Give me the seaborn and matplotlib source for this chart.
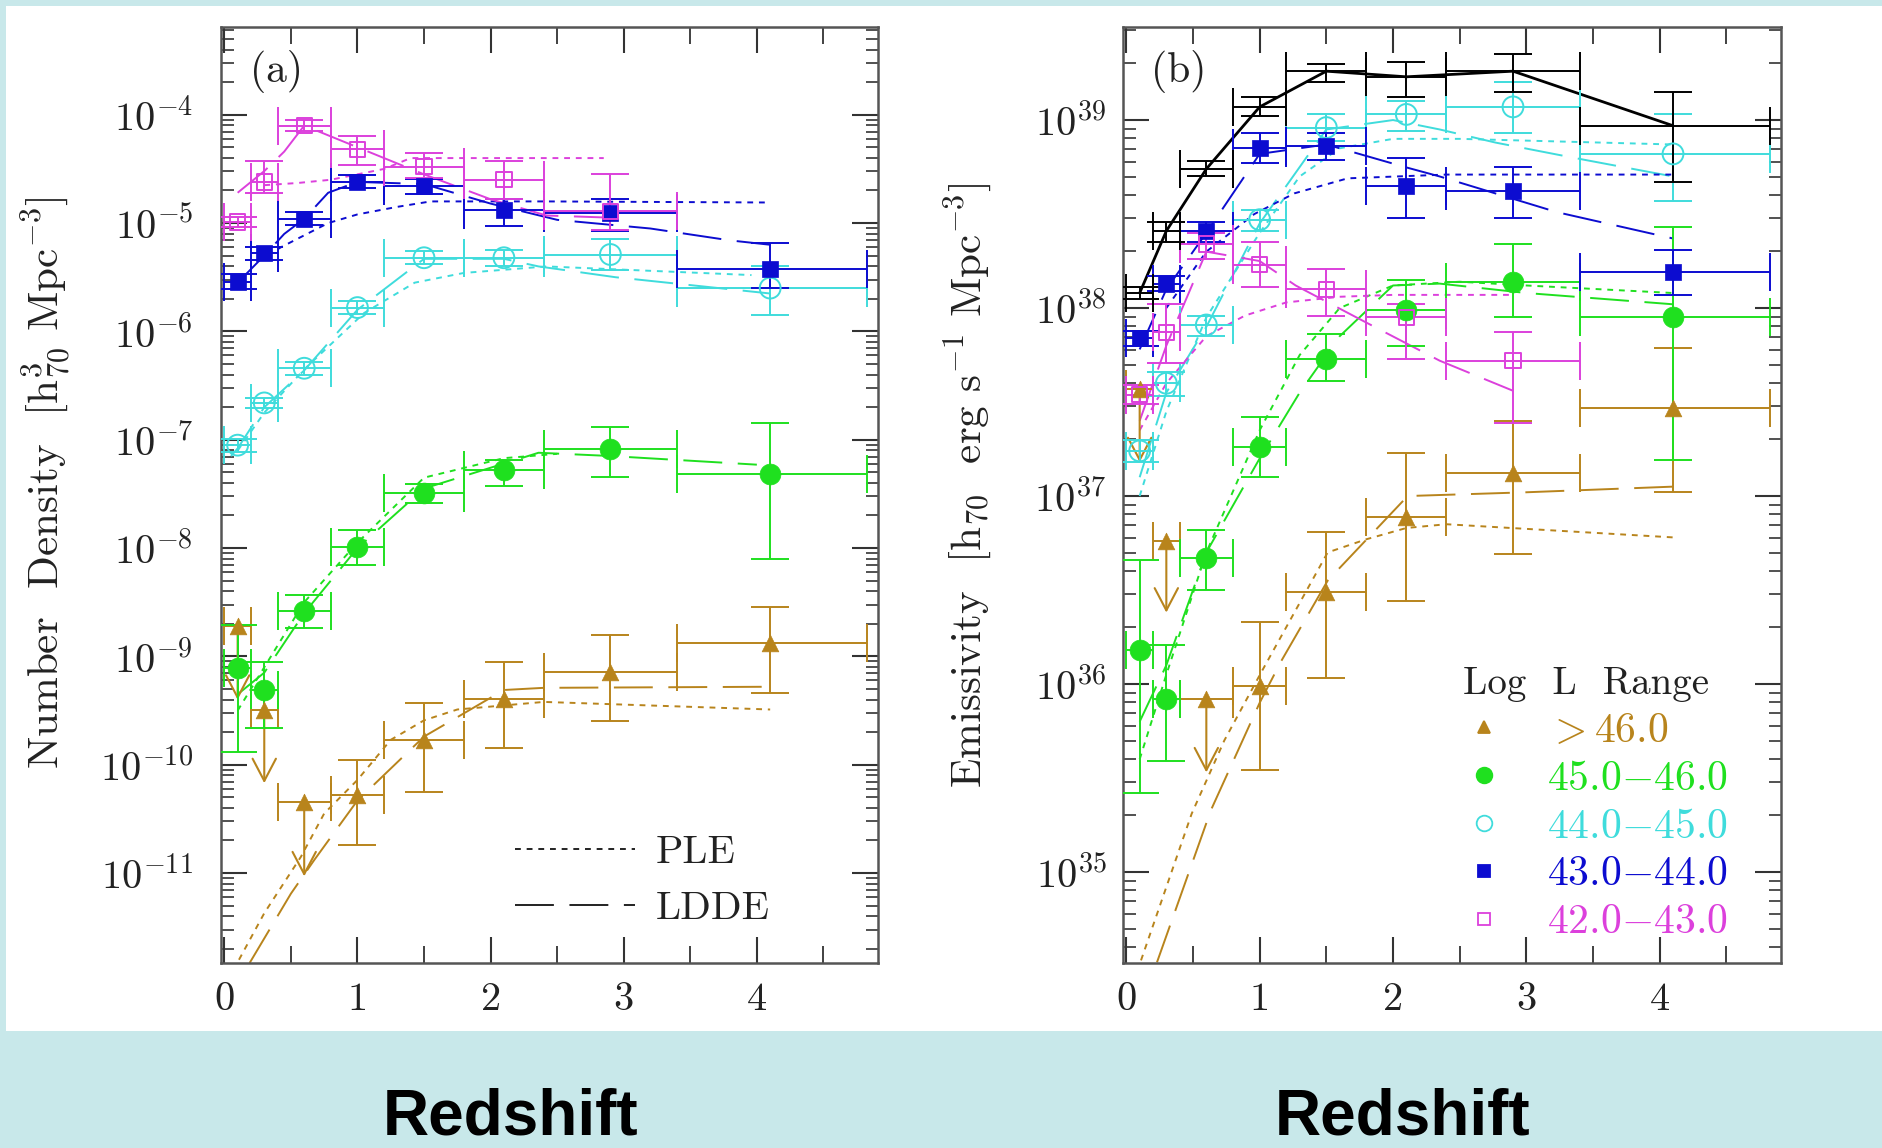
import numpy as np
import pandas as pd
import matplotlib
matplotlib.use("Agg")
import matplotlib.pyplot as plt
import seaborn as sns
from matplotlib.lines import Line2D
from matplotlib.patches import Rectangle
from matplotlib.ticker import LogLocator, MultipleLocator, FuncFormatter, NullFormatter, FixedLocator

# ---------------- data (log10 values) ----------------
Z = [0.1, 0.3, 0.6, 1.0, 1.5, 2.1, 2.9, 4.1]
Z_LO = [0.0, 0.2, 0.4, 0.8, 1.2, 1.8, 2.4, 3.4]
Z_HI = [0.2, 0.4, 0.8, 1.2, 1.8, 2.4, 3.4, 4.83]
X_TICKS = [0, 1, 2, 3, 4]
UPPER = [True, True, True, False, False, False, False, False]   # >46.0 upper limits

LABELS = [">46.0", "45.0-46.0", "44.0-45.0", "43.0-44.0", "42.0-43.0"]

# panel (a): number density
A_GT46 = [-8.72, -9.49, -10.34, -10.28, -9.77, -9.39, -9.14, -8.88]
A_GT46_LO = [-9.40, -10.17, -11.03, -10.74, -10.25, -9.85, -9.60, -9.34]
A_GT46_HI = [-8.72, -9.49, -10.34, -9.96, -9.43, -9.05, -8.80, -8.54]
A_4546 = [-9.11, -9.31, -8.58, -7.99, -7.49, -7.28, -7.09, -7.32]
A_4546_LO = [-9.88, -9.66, -8.74, -8.16, -7.58, -7.43, -7.34, -8.10]
A_4546_HI = [-8.71, -9.05, -8.43, -7.83, -7.41, -7.19, -6.88, -6.85]
A_4445 = [-7.05, -6.66, -6.34, -5.78, -5.32, -5.32, -5.29, -5.60]
A_4445_LO = [-7.11, -6.71, -6.40, -5.84, -5.38, -5.40, -5.43, -5.85]
A_4445_HI = [-6.99, -6.61, -6.28, -5.72, -5.26, -5.25, -5.15, -5.40]
A_4344 = [-5.54, -5.28, -4.96, -4.62, -4.66, -4.88, -4.91, -5.42]
A_4344_LO = [-5.61, -5.34, -5.02, -4.68, -4.73, -5.03, -5.07, -5.60]
A_4344_HI = [-5.47, -5.22, -4.90, -4.56, -4.59, -4.78, -4.78, -5.18]
A_4243 = [-4.99, -4.62, -4.10, -4.32, -4.48, -4.60, -4.89]
A_4243_LO = [-5.04, -4.72, -4.15, -4.46, -4.58, -4.78, -5.06]
A_4243_HI = [-4.94, -4.43, -4.05, -4.20, -4.35, -4.43, -4.55]

# panel (a) model curves
A_PLE_GT46_Z = [0.11, 0.3, 0.575, 0.75, 1.0, 1.25, 1.5, 1.75, 2.4, 4.1]
A_PLE_GT46 = [-11.8, -11.37, -10.85, -10.45, -10.14, -9.77, -9.59, -9.49, -9.42, -9.49]
A_LDDE_GT46_Z = [0.19, 0.5, 0.675, 1.0, 1.5, 2.1, 2.4, 4.1]
A_LDDE_GT46 = [-11.83, -11.19, -10.88, -10.33, -9.74, -9.31, -9.29, -9.28]
A_PLE_4546_Z = [0.1, 0.3, 0.6, 1.0, 1.5, 2.1, 2.5]
A_PLE_4546 = [-9.5, -9.1, -8.5, -7.95, -7.35, -7.17, -7.13]
A_LDDE_4546_Z = [0.1, 0.3, 0.6, 1.0, 1.5, 2.1, 2.36, 2.9, 4.0]
A_LDDE_4546 = [-9.35, -9.15, -8.6, -8.0, -7.45, -7.22, -7.12, -7.15, -7.23]
A_PLE_4445_Z = [0.1, 0.3, 0.6, 1.05, 1.43, 1.8, 2.42, 3.96]
A_PLE_4445 = [-7.1, -6.75, -6.35, -5.83, -5.55, -5.46, -5.4, -5.48]
A_LDDE_4445_Z = [0.05, 0.1, 0.3, 0.6, 1.0, 1.5, 2.1, 2.36, 2.94, 4.1]
A_LDDE_4445 = [-7.15, -7.08, -6.7, -6.36, -5.8, -5.33, -5.33, -5.4, -5.5, -5.65]
A_PLE_4344_Z = [0.25, 0.43, 0.78, 1.0, 1.3, 1.55, 2.42, 4.1]
A_PLE_4344 = [-5.35, -5.22, -5.0, -4.92, -4.85, -4.8, -4.8, -4.81]
A_LDDE_4344_Z = [0.1, 0.3, 0.45, 0.6, 0.78, 1.0, 1.5, 2.0, 2.5, 3.2, 3.8, 4.1]
A_LDDE_4344 = [-5.55, -5.3, -5.1, -4.96, -4.72, -4.62, -4.64, -4.82, -4.97, -5.05, -5.16, -5.2]
A_PLE_4243_Z = [0.3, 0.55, 0.8, 1.2, 1.4, 2.0, 2.85]
A_PLE_4243 = [-4.65, -4.63, -4.6, -4.5, -4.4, -4.4, -4.4]
A_LDDE_4243_Z = [0.1, 0.3, 0.45, 0.6, 1.0, 1.5, 2.0, 2.42, 2.9]
A_LDDE_4243 = [-4.72, -4.52, -4.34, -4.1, -4.3, -4.55, -4.78, -4.93, -4.95]

# panel (b): emissivity
B_TOT = [38.08, 38.41, 38.74, 39.07, 39.26, 39.23, 39.26, 38.97]
B_TOT_LO = [38.05, 38.35, 38.70, 39.02, 39.20, 39.12, 39.15, 38.67]
B_TOT_HI = [38.11, 38.46, 38.78, 39.12, 39.30, 39.31, 39.35, 39.15]
B_GT46 = [37.57, 36.76, 35.92, 35.99, 36.49, 36.89, 37.12, 37.47]
B_GT46_LO = [37.18, 36.38, 35.53, 35.54, 36.03, 36.44, 36.69, 37.02]
B_GT46_HI = [37.57, 36.76, 35.92, 36.33, 36.81, 37.23, 37.40, 37.79]
B_4546 = [36.18, 35.92, 36.67, 37.26, 37.73, 37.99, 38.14, 37.95]
B_4546_LO = [35.42, 35.59, 36.50, 37.10, 37.61, 37.80, 37.95, 37.19]
B_4546_HI = [36.66, 36.21, 36.82, 37.42, 37.86, 38.15, 38.34, 38.43]
B_4445 = [37.24, 37.60, 37.91, 38.47, 38.96, 39.03, 39.07, 38.82]
B_4445_LO = [37.18, 37.53, 37.85, 38.41, 38.89, 38.94, 38.93, 38.57]
B_4445_HI = [37.30, 37.66, 37.96, 38.52, 39.03, 39.10, 39.20, 39.03]
B_4344 = [37.84, 38.13, 38.41, 38.85, 38.86, 38.65, 38.62, 38.19]
B_4344_LO = [37.80, 38.09, 38.35, 38.77, 38.79, 38.48, 38.48, 38.07]
B_4344_HI = [37.88, 38.17, 38.46, 38.93, 38.93, 38.80, 38.75, 38.31]
B_4243 = [37.54, 37.87, 38.34, 38.23, 38.10, 37.95, 37.72]
B_4243_LO = [37.49, 37.71, 38.26, 38.11, 37.96, 37.73, 37.39]
B_4243_HI = [37.59, 38.02, 38.40, 38.35, 38.21, 38.02, 37.87]

# panel (b) model curves
B_PLE_GT46_Z = [0.11, 0.49, 0.735, 1.01, 1.51, 1.8, 2.1, 2.4, 4.1]
B_PLE_GT46 = [34.53, 35.31, 35.7, 36.06, 36.7, 36.77, 36.83, 36.85, 36.78]
B_LDDE_GT46_Z = [0.23, 0.635, 1.0, 1.16, 1.51, 2.11, 3.0, 4.1]
B_LDDE_GT46 = [34.52, 35.33, 35.9, 36.12, 36.55, 37.0, 37.02, 37.05]
B_PLE_4546_Z = [0.1, 0.3, 0.6, 1.0, 1.3, 1.6, 2.0, 2.5, 3.0, 4.1]
B_PLE_4546 = [35.6, 36.05, 36.7, 37.35, 37.75, 38.0, 38.12, 38.14, 38.12, 38.08]
B_LDDE_4546_Z = [0.1, 0.3, 0.6, 1.0, 1.3, 1.6, 2.0, 2.35, 3.0, 4.1]
B_LDDE_4546 = [35.8, 36.1, 36.7, 37.2, 37.55, 37.85, 38.12, 38.13, 38.08, 38.02]
B_PLE_4445_Z = [0.1, 0.3, 0.6, 1.0, 1.3, 1.6, 2.0, 2.5, 4.1]
B_PLE_4445 = [37.0, 37.45, 37.95, 38.4, 38.7, 38.85, 38.9, 38.9, 38.87]
B_LDDE_4445_Z = [0.1, 0.3, 0.6, 1.0, 1.5, 2.0, 2.35, 2.77, 3.35, 4.1]
B_LDDE_4445 = [37.1, 37.55, 37.9, 38.45, 38.95, 39.0, 38.95, 38.88, 38.8, 38.7]
B_PLE_4344_Z = [0.3, 0.6, 0.96, 1.26, 1.66, 2.4, 4.1]
B_PLE_4344 = [38.0, 38.3, 38.5, 38.61, 38.69, 38.71, 38.71]
B_LDDE_4344_Z = [0.1, 0.3, 0.6, 1.0, 1.5, 2.09, 2.35, 3.23, 4.1]
B_LDDE_4344 = [37.78, 38.1, 38.4, 38.82, 38.87, 38.75, 38.7, 38.51, 38.37]
B_PLE_4243_Z = [0.1, 0.3, 0.6, 0.89, 1.2, 1.6, 2.0, 2.9]
B_PLE_4243 = [37.35, 37.6, 37.85, 37.96, 38.03, 38.06, 38.07, 38.07]
B_LDDE_4243_Z = [0.1, 0.3, 0.6, 1.0, 1.27, 1.78, 2.35, 2.9]
B_LDDE_4243 = [37.4, 37.8, 38.3, 38.25, 38.12, 37.93, 37.72, 37.56]

# ---------------- style ----------------
BROWN, GREEN, CYAN, BLUE, MAGENTA = "#b8841c", "#1fe01f", "#3fdcdc", "#0c0cd0", "#dc40dc"
COLORS = [BROWN, GREEN, CYAN, BLUE, MAGENTA]
MARKERS = [("^", True, 12), ("o", True, 15), ("o", False, 15), ("s", True, 12), ("s", False, 11)]
BG = "#c8e8ea"
PLE_DASH = (0, (3, 3))
LDDE_DASH = (0, (20, 8))

sns.set_theme(style="ticks")
plt.rcParams["font.family"] = ["cmr10", "DejaVu Serif"]
plt.rcParams["mathtext.fontset"] = "cm"
plt.rcParams["axes.formatter.use_mathtext"] = True
plt.rcParams["axes.unicode_minus"] = False

fig = plt.figure(figsize=(18.83, 11.48), dpi=100, facecolor=BG)
fig.patches.append(Rectangle((6 / 1883, 1 - 1031 / 1148), 1, (1031 - 6) / 1148,
                             transform=fig.transFigure, facecolor="white", edgecolor="none",
                             zorder=-5))
axA = fig.add_axes([221 / 1883, 1 - 963 / 1148, 657 / 1883, 936 / 1148])
axB = fig.add_axes([1123 / 1883, 1 - 963 / 1148, 658 / 1883, 936 / 1148])


def p10(a):
    return np.power(10.0, np.asarray(a, dtype=float))


def draw_points(ax, vals, lo, hi, color, mspec, upper=None):
    n = len(vals)
    z = np.array(Z[:n]); zl = np.array(Z_LO[:n]); zh = np.array(Z_HI[:n])
    v = p10(vals); vl = p10(lo); vh = p10(hi)
    up = np.array(upper[:n]) if upper is not None else np.zeros(n, bool)
    ax.errorbar(z, v, xerr=[z - zl, zh - z], fmt="none", ecolor=color, elinewidth=1.4,
                capsize=14, capthick=1.4, zorder=3)
    ok = ~up
    ax.errorbar(z[ok], v[ok], yerr=[v[ok] - vl[ok], vh[ok] - v[ok]], fmt="none", ecolor=color,
                elinewidth=1.4, capsize=14, capthick=1.4, zorder=3)
    for zi, vi, li in zip(z[up], v[up], vl[up]):
        ax.annotate("", xy=(zi, li), xytext=(zi, vi),
                    arrowprops=dict(arrowstyle="->,head_length=0.8,head_width=0.42", color=color,
                                    lw=1.5, shrinkA=0, shrinkB=0, mutation_scale=20), zorder=3)
    if mspec is not None:
        mk, filled, ms = mspec
        df = pd.DataFrame({"z": z, "v": v})
        if filled:
            sns.scatterplot(data=df, x="z", y="v", ax=ax, marker=mk, s=ms ** 2, color=color,
                            edgecolor=color, linewidth=0.5, zorder=5, legend=False)
        else:
            sns.scatterplot(data=df, x="z", y="v", ax=ax, marker=mk, s=ms ** 2, facecolor="none",
                            edgecolor=color, linewidth=1.4, zorder=5, legend=False)


def draw_curve(ax, zz, vals, color, ls, lw=1.4):
    df = pd.DataFrame({"z": zz, "v": p10(vals)})
    sns.lineplot(data=df, x="z", y="v", ax=ax, color=color, linestyle=ls, lw=lw,
                 sort=False, estimator=None, zorder=2, legend=False)


def style_axis(ax, ylim, ypad):
    ax.set_yscale("log")
    ax.set_xlim(-0.025, 4.91)
    ax.set_ylim(*ylim)
    ax.xaxis.set_major_locator(FixedLocator(X_TICKS))
    ax.xaxis.set_minor_locator(MultipleLocator(0.5))
    ax.yaxis.set_major_locator(LogLocator(base=10, numticks=100))
    ax.yaxis.set_minor_locator(LogLocator(base=10, subs=np.arange(2, 10) * 1.0, numticks=100))
    ax.yaxis.set_major_formatter(FuncFormatter(lambda v, p: r"$10^{%d}$" % int(round(np.log10(v)))))
    ax.yaxis.set_minor_formatter(NullFormatter())
    ax.xaxis.set_major_formatter(FuncFormatter(lambda v, p: "%d" % v))
    ax.tick_params(which="both", direction="in", top=True, right=True, color="#333333")
    ax.tick_params(which="major", length=19, width=1.5, labelsize=29, labelcolor="#222222")
    ax.tick_params(axis="x", which="major", pad=14)
    ax.tick_params(axis="y", which="major", pad=ypad)
    ax.tick_params(axis="x", which="minor", length=12, width=1.3)
    ax.tick_params(axis="y", which="minor", length=9, width=1.2)
    for s in ax.spines.values():
        s.set_linewidth(1.8)
        s.set_color("#555555")
    ax.set_facecolor("white")


# ---------------- panel (a) ----------------
A_SETS = [(A_GT46, A_GT46_LO, A_GT46_HI), (A_4546, A_4546_LO, A_4546_HI),
          (A_4445, A_4445_LO, A_4445_HI), (A_4344, A_4344_LO, A_4344_HI),
          (A_4243, A_4243_LO, A_4243_HI)]
A_PLE = [(A_PLE_GT46_Z, A_PLE_GT46), (A_PLE_4546_Z, A_PLE_4546), (A_PLE_4445_Z, A_PLE_4445),
         (A_PLE_4344_Z, A_PLE_4344), (A_PLE_4243_Z, A_PLE_4243)]
A_LDDE = [(A_LDDE_GT46_Z, A_LDDE_GT46), (A_LDDE_4546_Z, A_LDDE_4546), (A_LDDE_4445_Z, A_LDDE_4445),
          (A_LDDE_4344_Z, A_LDDE_4344), (A_LDDE_4243_Z, A_LDDE_4243)]
axA.set_yscale("log")
for i, c in enumerate(COLORS):
    draw_curve(axA, *A_PLE[i], c, PLE_DASH)
    draw_curve(axA, *A_LDDE[i], c, LDDE_DASH)
for i, c in enumerate(COLORS):
    vals, lo, hi = A_SETS[i]
    draw_points(axA, vals, lo, hi, c, MARKERS[i], UPPER if i == 0 else None)
style_axis(axA, (10 ** -11.83, 10 ** -3.19), 20)
axA.set_xlabel("")
axA.set_ylabel(r"Number  Density  [h$^{3}_{70}$ Mpc$^{-3}$]", fontsize=31, color="#222222")
axA.yaxis.set_label_coords(-0.223, 0.513)
axA.text(0.084, 0.952, "(a)", transform=axA.transAxes, fontsize=30, ha="center", va="center",
         color="#222222")
leg_a = axA.legend(handles=[Line2D([], [], color="#222222", ls=PLE_DASH, lw=1.4),
                            Line2D([], [], color="#222222", ls=LDDE_DASH, lw=1.4)],
                   labels=["PLE", "LDDE"], loc="lower left", bbox_to_anchor=(0.404, 0.008),
                   frameon=False, fontsize=29, handlelength=3.0, handletextpad=0.5,
                   labelspacing=0.5, borderpad=0.2)
for t in leg_a.get_texts():
    t.set_color("#222222")

# ---------------- panel (b) ----------------
B_SETS = [(B_GT46, B_GT46_LO, B_GT46_HI), (B_4546, B_4546_LO, B_4546_HI),
          (B_4445, B_4445_LO, B_4445_HI), (B_4344, B_4344_LO, B_4344_HI),
          (B_4243, B_4243_LO, B_4243_HI)]
B_PLE = [(B_PLE_GT46_Z, B_PLE_GT46), (B_PLE_4546_Z, B_PLE_4546), (B_PLE_4445_Z, B_PLE_4445),
         (B_PLE_4344_Z, B_PLE_4344), (B_PLE_4243_Z, B_PLE_4243)]
B_LDDE = [(B_LDDE_GT46_Z, B_LDDE_GT46), (B_LDDE_4546_Z, B_LDDE_4546), (B_LDDE_4445_Z, B_LDDE_4445),
          (B_LDDE_4344_Z, B_LDDE_4344), (B_LDDE_4243_Z, B_LDDE_4243)]
axB.set_yscale("log")
for i, c in enumerate(COLORS):
    draw_curve(axB, *B_PLE[i], c, PLE_DASH)
    draw_curve(axB, *B_LDDE[i], c, LDDE_DASH)
draw_curve(axB, Z, B_TOT, "black", "-", lw=2.0)
for i, c in enumerate(COLORS):
    vals, lo, hi = B_SETS[i]
    draw_points(axB, vals, lo, hi, c, MARKERS[i], UPPER if i == 0 else None)
draw_points(axB, B_TOT, B_TOT_LO, B_TOT_HI, "black", None)
style_axis(axB, (10 ** 34.516, 10 ** 39.495), 12)
axB.set_xlabel("")
axB.set_ylabel(r"Emissivity  [h$_{70}$  erg s$^{-1}$ Mpc$^{-3}$]", fontsize=31, color="#222222")
axB.yaxis.set_label_coords(-0.196, 0.51)
axB.text(0.085, 0.952, "(b)", transform=axB.transAxes, fontsize=30, ha="center", va="center",
         color="#222222")

handles = []
for (mk, filled, ms), c in zip(MARKERS, COLORS):
    handles.append(Line2D([], [], ls="none", marker=mk, markersize=ms * 0.75,
                          markerfacecolor=c if filled else "none", markeredgecolor=c,
                          markeredgewidth=1.3))
leg_labels = [r"$>$46.0", r"45.0$-$46.0", r"44.0$-$45.0", r"43.0$-$44.0", r"42.0$-$43.0"]
leg_b = axB.legend(handles=handles, labels=leg_labels, title="Log  L  Range", loc="lower left",
                   bbox_to_anchor=(0.473, -0.008), frameon=False, fontsize=30, title_fontsize=28,
                   handlelength=1.0, handletextpad=1.0, labelspacing=0.25, borderpad=0.2,
                   alignment="left")
for t, c in zip(leg_b.get_texts(), COLORS):
    t.set_color(c)
leg_b.get_title().set_color("#222222")

# x labels (big bold sans below each panel)
for ax, xc in ((axA, 0.44), (axB, 0.4255)):
    ax.set_xlabel("Redshift", fontsize=46, fontweight="bold", family="Liberation Sans", color="black")
    ax.xaxis.set_label_coords(xc, -0.165)
    ax.xaxis.label.set_va("center")

fig.savefig("out.png", dpi=100, facecolor=BG)
